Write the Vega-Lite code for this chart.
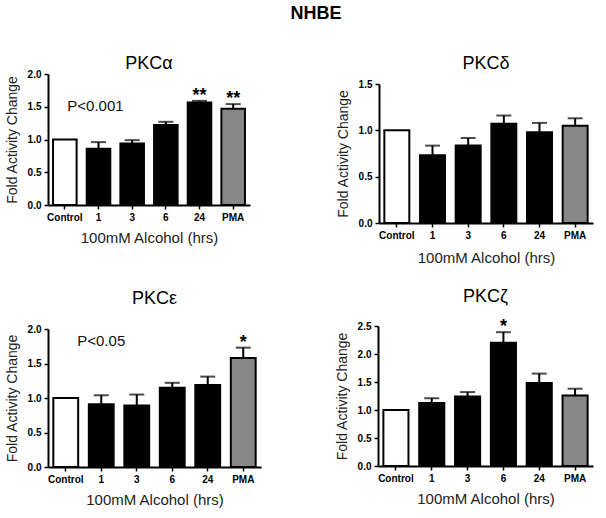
{
  "$schema": "https://vega.github.io/schema/vega-lite/v6.json",
  "background": "white",
  "padding": 5,
  "title": {"text": "NHBE", "fontSize": 18, "fontWeight": "bold", "anchor": "middle", "frame": "bounds", "dx": 17, "offset": 32, "font": "Liberation Sans", "color": "black"},
  "datasets": {
    "alpha": [
      {"cat": "Control", "value": 1.0, "upper": null, "sig": ""},
      {"cat": "1", "value": 0.86, "upper": 0.96, "sig": ""},
      {"cat": "3", "value": 0.94, "upper": 0.99, "sig": ""},
      {"cat": "6", "value": 1.22, "upper": 1.27, "sig": ""},
      {"cat": "24", "value": 1.565, "upper": 1.59, "sig": "**"},
      {"cat": "PMA", "value": 1.47, "upper": 1.54, "sig": "**"}
    ],
    "delta": [
      {"cat": "Control", "value": 1.0, "upper": null, "sig": ""},
      {"cat": "1", "value": 0.73, "upper": 0.835, "sig": ""},
      {"cat": "3", "value": 0.835, "upper": 0.917, "sig": ""},
      {"cat": "6", "value": 1.07, "upper": 1.16, "sig": ""},
      {"cat": "24", "value": 0.98, "upper": 1.08, "sig": ""},
      {"cat": "PMA", "value": 1.05, "upper": 1.13, "sig": ""}
    ],
    "epsilon": [
      {"cat": "Control", "value": 1.0, "upper": null, "sig": ""},
      {"cat": "1", "value": 0.91, "upper": 1.04, "sig": ""},
      {"cat": "3", "value": 0.89, "upper": 1.05, "sig": ""},
      {"cat": "6", "value": 1.15, "upper": 1.22, "sig": ""},
      {"cat": "24", "value": 1.19, "upper": 1.31, "sig": ""},
      {"cat": "PMA", "value": 1.58, "upper": 1.73, "sig": "*"}
    ],
    "zeta": [
      {"cat": "Control", "value": 1.0, "upper": null, "sig": ""},
      {"cat": "1", "value": 1.125, "upper": 1.21, "sig": ""},
      {"cat": "3", "value": 1.24, "upper": 1.32, "sig": ""},
      {"cat": "6", "value": 2.2, "upper": 2.39, "sig": "*"},
      {"cat": "24", "value": 1.48, "upper": 1.65, "sig": ""},
      {"cat": "PMA", "value": 1.26, "upper": 1.38, "sig": ""}
    ]
  },
  "vconcat": [
    {
      "hconcat": [
        {
          "data": {"name": "alpha"},
          "width": 202, "height": 131,
          "title": {"text": "PKCα", "offset": -4},
          "encoding": {"x": {"field": "cat", "type": "nominal", "sort": ["Control", "1", "3", "6", "24", "PMA"], "scale": {"paddingInner": 0.3, "paddingOuter": 0.15}, "axis": {"title": "100mM Alcohol (hrs)", "titlePadding": 8}}},
          "layer": [
            {"mark": {"type": "bar", "stroke": "black", "strokeWidth": 2},
             "encoding": {"y": {"field": "value", "type": "quantitative", "title": "Fold Activity Change", "scale": {"domain": [0, 2], "nice": false}, "axis": {"values": [0, 0.5, 1, 1.5, 2]}},
               "color": {"field": "cat", "type": "nominal", "scale": {"domain": ["Control", "1", "3", "6", "24", "PMA"], "range": ["white", "black", "black", "black", "black", "#878787"]}, "legend": null}}},
            {"mark": {"type": "rule", "strokeWidth": 2, "color": "black"}, "encoding": {"y": {"field": "value", "type": "quantitative", "title": "Fold Activity Change", "axis": {"values": [0, 0.5, 1, 1.5, 2]}}, "y2": {"field": "upper"}}},
            {"mark": {"type": "tick", "color": "black", "thickness": 2, "size": 15}, "encoding": {"y": {"field": "upper", "type": "quantitative", "title": "Fold Activity Change", "axis": {"values": [0, 0.5, 1, 1.5, 2]}}}},
            {"mark": {"type": "text", "fontSize": 18, "fontWeight": "bold", "baseline": "alphabetic", "dy": 0, "color": "black"}, "encoding": {"y": {"field": "upper", "type": "quantitative", "title": "Fold Activity Change", "axis": {"values": [0, 0.5, 1, 1.5, 2]}}, "text": {"field": "sig"}}},
            {"data": {"values": [{"cat": "1", "y": 1.51, "label": "P<0.001"}]}, "mark": {"type": "text", "fontSize": 15, "baseline": "middle", "color": "#111", "dx": -3}, "encoding": {"y": {"field": "y", "type": "quantitative", "title": "Fold Activity Change", "axis": {"values": [0, 0.5, 1, 1.5, 2]}}, "text": {"field": "label"}}}
          ]
        },
        {
          "data": {"name": "delta"},
          "width": 214, "height": 149,
          "title": {"text": "PKCδ", "offset": 1},
          "encoding": {"x": {"field": "cat", "type": "nominal", "sort": ["Control", "1", "3", "6", "24", "PMA"], "scale": {"paddingInner": 0.3, "paddingOuter": 0.15}, "axis": {"title": "100mM Alcohol (hrs)", "titlePadding": 10}}},
          "layer": [
            {"mark": {"type": "bar", "stroke": "black", "strokeWidth": 2},
             "encoding": {"y": {"field": "value", "type": "quantitative", "title": "Fold Activity Change", "scale": {"domain": [0, 1.5], "nice": false, "range": [149, 10]}, "axis": {"values": [0, 0.5, 1, 1.5]}},
               "color": {"field": "cat", "type": "nominal", "scale": {"domain": ["Control", "1", "3", "6", "24", "PMA"], "range": ["white", "black", "black", "black", "black", "#878787"]}, "legend": null}}},
            {"mark": {"type": "rule", "strokeWidth": 2, "color": "black"}, "encoding": {"y": {"field": "value", "type": "quantitative", "title": "Fold Activity Change", "axis": {"values": [0, 0.5, 1, 1.5]}}, "y2": {"field": "upper"}}},
            {"mark": {"type": "tick", "color": "black", "thickness": 2, "size": 15}, "encoding": {"y": {"field": "upper", "type": "quantitative", "title": "Fold Activity Change", "axis": {"values": [0, 0.5, 1, 1.5]}}}}
          ]
        }
      ],
      "spacing": 86
    },
    {
      "hconcat": [
        {
          "data": {"name": "epsilon"},
          "width": 213, "height": 141,
          "title": {"text": "PKCε", "offset": 16},
          "encoding": {"x": {"field": "cat", "type": "nominal", "sort": ["Control", "1", "3", "6", "24", "PMA"], "scale": {"paddingInner": 0.3, "paddingOuter": 0.15}, "axis": {"title": "100mM Alcohol (hrs)", "titlePadding": 8}}},
          "layer": [
            {"mark": {"type": "bar", "stroke": "black", "strokeWidth": 2},
             "encoding": {"y": {"field": "value", "type": "quantitative", "title": "Fold Activity Change", "scale": {"domain": [0, 2], "nice": false, "range": [141, 3]}, "axis": {"values": [0, 0.5, 1, 1.5, 2]}},
               "color": {"field": "cat", "type": "nominal", "scale": {"domain": ["Control", "1", "3", "6", "24", "PMA"], "range": ["white", "black", "black", "black", "black", "#878787"]}, "legend": null}}},
            {"mark": {"type": "rule", "strokeWidth": 2, "color": "black"}, "encoding": {"y": {"field": "value", "type": "quantitative", "title": "Fold Activity Change", "axis": {"values": [0, 0.5, 1, 1.5, 2]}}, "y2": {"field": "upper"}}},
            {"mark": {"type": "tick", "color": "black", "thickness": 2, "size": 15}, "encoding": {"y": {"field": "upper", "type": "quantitative", "title": "Fold Activity Change", "axis": {"values": [0, 0.5, 1, 1.5, 2]}}}},
            {"mark": {"type": "text", "fontSize": 18, "fontWeight": "bold", "baseline": "alphabetic", "dy": 0, "color": "black"}, "encoding": {"y": {"field": "upper", "type": "quantitative", "title": "Fold Activity Change", "axis": {"values": [0, 0.5, 1, 1.5, 2]}}, "text": {"field": "sig"}}},
            {"data": {"values": [{"cat": "1", "y": 1.82, "label": "P<0.05"}]}, "mark": {"type": "text", "fontSize": 15, "baseline": "middle", "color": "#111"}, "encoding": {"y": {"field": "y", "type": "quantitative", "title": "Fold Activity Change", "axis": {"values": [0, 0.5, 1, 1.5, 2]}}, "text": {"field": "label"}}}
          ]
        },
        {
          "data": {"name": "zeta"},
          "width": 215, "height": 140,
          "title": {"text": "PKCζ", "offset": 12},
          "encoding": {"x": {"field": "cat", "type": "nominal", "sort": ["Control", "1", "3", "6", "24", "PMA"], "scale": {"paddingInner": 0.3, "paddingOuter": 0.15}, "axis": {"title": "100mM Alcohol (hrs)", "titlePadding": 8}}},
          "layer": [
            {"mark": {"type": "bar", "stroke": "black", "strokeWidth": 2},
             "encoding": {"y": {"field": "value", "type": "quantitative", "title": "Fold Activity Change", "scale": {"domain": [0, 2.5], "nice": false}, "axis": {"values": [0, 0.5, 1, 1.5, 2, 2.5]}},
               "color": {"field": "cat", "type": "nominal", "scale": {"domain": ["Control", "1", "3", "6", "24", "PMA"], "range": ["white", "black", "black", "black", "black", "#878787"]}, "legend": null}}},
            {"mark": {"type": "rule", "strokeWidth": 2, "color": "black"}, "encoding": {"y": {"field": "value", "type": "quantitative", "title": "Fold Activity Change", "axis": {"values": [0, 0.5, 1, 1.5, 2, 2.5]}}, "y2": {"field": "upper"}}},
            {"mark": {"type": "tick", "color": "black", "thickness": 2, "size": 15}, "encoding": {"y": {"field": "upper", "type": "quantitative", "title": "Fold Activity Change", "axis": {"values": [0, 0.5, 1, 1.5, 2, 2.5]}}}},
            {"mark": {"type": "text", "fontSize": 18, "fontWeight": "bold", "baseline": "alphabetic", "dy": 0, "color": "black"}, "encoding": {"y": {"field": "upper", "type": "quantitative", "title": "Fold Activity Change", "axis": {"values": [0, 0.5, 1, 1.5, 2, 2.5]}}, "text": {"field": "sig"}}}
          ]
        }
      ],
      "spacing": 74
    }
  ],
  "spacing": 23,
  "config": {
    "view": {"stroke": null},
    "font": "Liberation Sans",
    "title": {"fontSize": 18, "fontWeight": "normal", "font": "Liberation Sans", "color": "black", "frame": "group", "anchor": "middle"},
    "axis": {"grid": false, "domainColor": "black", "domainWidth": 2, "tickColor": "black", "tickWidth": 1.5, "tickSize": 4, "labelFont": "Liberation Sans", "labelFontWeight": "bold", "labelFontSize": 10, "labelColor": "black", "titleFont": "Liberation Sans", "titleFontWeight": "normal", "titleColor": "#222"},
    "axisX": {"labelAngle": 0, "titleFontSize": 15, "labelPadding": 3},
    "axisY": {"titleFontSize": 14, "format": ".1f", "titlePadding": 8, "labelPadding": 3}
  }
}
